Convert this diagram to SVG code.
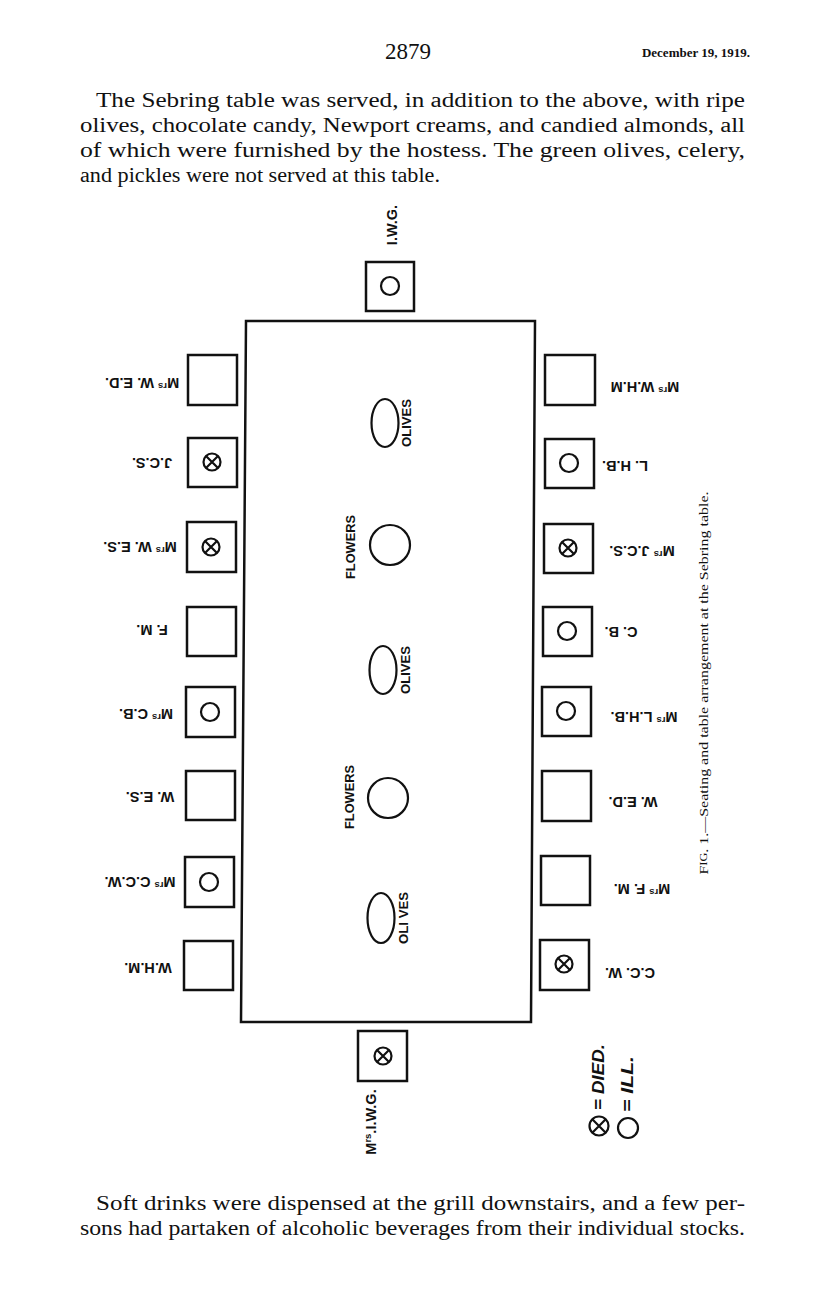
<svg xmlns="http://www.w3.org/2000/svg" width="816" height="1301" viewBox="0 0 816 1301">
<style>
.body{font-family:"Liberation Serif","Times New Roman",serif;font-size:20px;fill:#111}
.lab{font-family:"Liberation Sans",Arial,sans-serif;font-weight:bold;font-size:14.5px;fill:#111}
.sup{font-size:9.5px}
.item{font-family:"Liberation Sans",Arial,sans-serif;font-weight:bold;font-size:12px;fill:#111}
.leg{font-family:"Liberation Sans",Arial,sans-serif;font-weight:bold;font-style:italic;font-size:17px;fill:#111}
.cap{font-family:"Liberation Serif","Times New Roman",serif;font-size:13px;fill:#111}
.seat{fill:none;stroke:#111;stroke-width:2.5}
.sym{fill:none;stroke:#111;stroke-width:2.2}
.tbl{fill:none;stroke:#111;stroke-width:2.5}
</style>
<defs>
<g id="ill"><circle r="9" class="sym"/></g>
<g id="died"><circle r="8.5" class="sym"/><path d="M-6,-6 L6,6 M6,-6 L-6,6" class="sym"/></g>
<g id="ill-l"><circle r="10" class="sym"/></g>
<g id="died-l"><circle r="9.5" class="sym"/><path d="M-6.7,-6.7 L6.7,6.7 M6.7,-6.7 L-6.7,6.7" class="sym"/></g>
</defs>
<rect width="816" height="1301" fill="#fff"/>

<g id="header">
<text x="408" y="59" text-anchor="middle" style="font-family:'Liberation Serif',serif;font-size:23px;fill:#111">2879</text>
<text x="750" y="57" text-anchor="end" style="font-family:'Liberation Serif',serif;font-size:13px;font-weight:bold;fill:#111">December 19, 1919.</text>
</g>
<g id="para-top">
<text class="body" x="96" y="107" textLength="649" lengthAdjust="spacingAndGlyphs">The Sebring table was served, in addition to the above, with ripe</text>
<text class="body" x="80" y="132" textLength="665" lengthAdjust="spacingAndGlyphs">olives, chocolate candy, Newport creams, and candied almonds, all</text>
<text class="body" x="80" y="157" textLength="665" lengthAdjust="spacingAndGlyphs">of which were furnished by the hostess.  The green olives, celery,</text>
<text class="body" x="80" y="182" textLength="360" lengthAdjust="spacingAndGlyphs">and pickles were not served at this table.</text>
</g>

<g id="table"><polygon class="tbl" points="246,321 535,321 531,1022 241,1022"/></g>

<g id="seat-top">
<rect class="seat" x="366" y="262" width="48" height="49"/>
<use href="#ill" x="390" y="286"/>
<text class="lab" x="392" y="225" text-anchor="middle" dominant-baseline="central" transform="rotate(-90 392 225)">I.W.G.</text>
</g>
<g id="seat-bottom">
<rect class="seat" x="358" y="1031" width="49" height="50"/>
<use href="#died" x="383" y="1056"/>
<text class="lab" x="371" y="1122" text-anchor="middle" dominant-baseline="central" transform="rotate(-90 371 1122)">M<tspan class="sup" dy="-4">rs</tspan><tspan dy="4">.I.W.G.</tspan></text>
</g>

<g id="seat-L1"><rect class="seat" x="188" y="355" width="49" height="50"/>
<text class="lab" x="142" y="383" text-anchor="middle" dominant-baseline="central" transform="rotate(180 142 383)">M<tspan class="sup" dy="-4">rs</tspan><tspan dy="4"> W. E.D.</tspan></text></g>
<g id="seat-L2"><rect class="seat" x="188" y="438" width="49" height="49"/><use href="#died" x="212" y="462"/>
<text class="lab" x="152" y="463" text-anchor="middle" dominant-baseline="central" transform="rotate(180 152 463)">J.C.S.</text></g>
<g id="seat-L3"><rect class="seat" x="187" y="522" width="49" height="50"/><use href="#died" x="211" y="547"/>
<text class="lab" x="140" y="547" text-anchor="middle" dominant-baseline="central" transform="rotate(180 140 547)">M<tspan class="sup" dy="-4">rs</tspan><tspan dy="4"> W. E.S.</tspan></text></g>
<g id="seat-L4"><rect class="seat" x="187" y="607" width="49" height="49"/>
<text class="lab" x="152" y="630" text-anchor="middle" dominant-baseline="central" transform="rotate(180 152 630)">F. M.</text></g>
<g id="seat-L5"><rect class="seat" x="186" y="687" width="49" height="50"/><use href="#ill" x="210" y="712"/>
<text class="lab" x="146" y="714" text-anchor="middle" dominant-baseline="central" transform="rotate(180 146 714)">M<tspan class="sup" dy="-4">rs</tspan><tspan dy="4"> C.B.</tspan></text></g>
<g id="seat-L6"><rect class="seat" x="186" y="771" width="49" height="49"/>
<text class="lab" x="150" y="797" text-anchor="middle" dominant-baseline="central" transform="rotate(180 150 797)">W. E.S.</text></g>
<g id="seat-L7"><rect class="seat" x="185" y="857" width="49" height="50"/><use href="#ill" x="209" y="882"/>
<text class="lab" x="140" y="882" text-anchor="middle" dominant-baseline="central" transform="rotate(180 140 882)">M<tspan class="sup" dy="-4">rs</tspan><tspan dy="4"> C.C.W.</tspan></text></g>
<g id="seat-L8"><rect class="seat" x="184" y="941" width="49" height="49"/>
<text class="lab" x="148" y="968" text-anchor="middle" dominant-baseline="central" transform="rotate(180 148 968)">W.H.M.</text></g>

<g id="seat-R1"><rect class="seat" x="545" y="355" width="50" height="50"/>
<text class="lab" x="645" y="387" text-anchor="middle" dominant-baseline="central" transform="rotate(180 645 387)">M<tspan class="sup" dy="-4">rs</tspan><tspan dy="4"> W.H.M</tspan></text></g>
<g id="seat-R2"><rect class="seat" x="545" y="439" width="49" height="49"/><use href="#ill" x="569" y="463"/>
<text class="lab" x="625" y="466" text-anchor="middle" dominant-baseline="central" transform="rotate(180 625 466)">L. H.B.</text></g>
<g id="seat-R3"><rect class="seat" x="544" y="524" width="49" height="49"/><use href="#died" x="568" y="548"/>
<text class="lab" x="642" y="551" text-anchor="middle" dominant-baseline="central" transform="rotate(180 642 551)">M<tspan class="sup" dy="-4">rs</tspan><tspan dy="4"> J.C.S.</tspan></text></g>
<g id="seat-R4"><rect class="seat" x="543" y="607" width="49" height="49"/><use href="#ill" x="567" y="631"/>
<text class="lab" x="621" y="632" text-anchor="middle" dominant-baseline="central" transform="rotate(180 621 632)">C. B.</text></g>
<g id="seat-R5"><rect class="seat" x="542" y="687" width="49" height="49"/><use href="#ill" x="566" y="711"/>
<text class="lab" x="644" y="717" text-anchor="middle" dominant-baseline="central" transform="rotate(180 644 717)">M<tspan class="sup" dy="-4">rs</tspan><tspan dy="4"> L.H.B.</tspan></text></g>
<g id="seat-R6"><rect class="seat" x="542" y="771" width="49" height="50"/>
<text class="lab" x="633" y="802" text-anchor="middle" dominant-baseline="central" transform="rotate(180 633 802)">W. E.D.</text></g>
<g id="seat-R7"><rect class="seat" x="541" y="856" width="49" height="49"/>
<text class="lab" x="642" y="889" text-anchor="middle" dominant-baseline="central" transform="rotate(180 642 889)">M<tspan class="sup" dy="-4">rs</tspan><tspan dy="4"> F. M.</tspan></text></g>
<g id="seat-R8"><rect class="seat" x="540" y="940" width="49" height="50"/><use href="#died" x="564" y="964"/>
<text class="lab" x="630" y="973" text-anchor="middle" dominant-baseline="central" transform="rotate(180 630 973)">C.C. W.</text></g>

<g id="olives-1"><ellipse class="sym" cx="385" cy="423" rx="13.5" ry="24"/>
<text class="item" x="407" y="423" text-anchor="middle" dominant-baseline="central" textLength="48" lengthAdjust="spacingAndGlyphs" transform="rotate(-90 407 423)">OLIVES</text></g>
<g id="flowers-1"><circle class="sym" cx="390" cy="545" r="20"/>
<text class="item" x="351" y="547" text-anchor="middle" dominant-baseline="central" textLength="64" lengthAdjust="spacingAndGlyphs" transform="rotate(-90 351 547)">FLOWERS</text></g>
<g id="olives-2"><ellipse class="sym" cx="383" cy="670" rx="13.5" ry="24"/>
<text class="item" x="406" y="670" text-anchor="middle" dominant-baseline="central" textLength="48" lengthAdjust="spacingAndGlyphs" transform="rotate(-90 406 670)">OLIVES</text></g>
<g id="flowers-2"><circle class="sym" cx="388" cy="798" r="20"/>
<text class="item" x="350" y="797" text-anchor="middle" dominant-baseline="central" textLength="64" lengthAdjust="spacingAndGlyphs" transform="rotate(-90 350 797)">FLOWERS</text></g>
<g id="olives-3"><ellipse class="sym" cx="381" cy="918" rx="13.5" ry="25"/>
<text class="item" x="404" y="918" text-anchor="middle" dominant-baseline="central" textLength="52" lengthAdjust="spacingAndGlyphs" transform="rotate(-90 404 918)">OLI VES</text></g>

<g id="legend">
<use href="#died-l" x="599" y="1126"/>
<use href="#ill-l" x="628" y="1128"/>
<text class="leg" x="598" y="1077" text-anchor="middle" dominant-baseline="central" textLength="66" lengthAdjust="spacingAndGlyphs" transform="rotate(-90 598 1077)">= DIED.</text>
<text class="leg" x="627" y="1084" text-anchor="middle" dominant-baseline="central" textLength="56" lengthAdjust="spacingAndGlyphs" transform="rotate(-90 627 1084)">= ILL.</text>
</g>

<g id="caption">
<text class="cap" x="703" y="683" text-anchor="middle" dominant-baseline="central" textLength="383" lengthAdjust="spacingAndGlyphs" transform="rotate(-90 703 683)">F<tspan style="font-size:10px">IG</tspan>. 1.—Seating and table arrangement at the Sebring table.</text>
</g>

<g id="para-bottom">
<text class="body" x="96" y="1210" textLength="649" lengthAdjust="spacingAndGlyphs">Soft drinks were dispensed at the grill downstairs, and a few per-</text>
<text class="body" x="80" y="1235" textLength="665" lengthAdjust="spacingAndGlyphs">sons had partaken of alcoholic beverages from their individual stocks.</text>
</g>
<g id="connectors"/>
</svg>
